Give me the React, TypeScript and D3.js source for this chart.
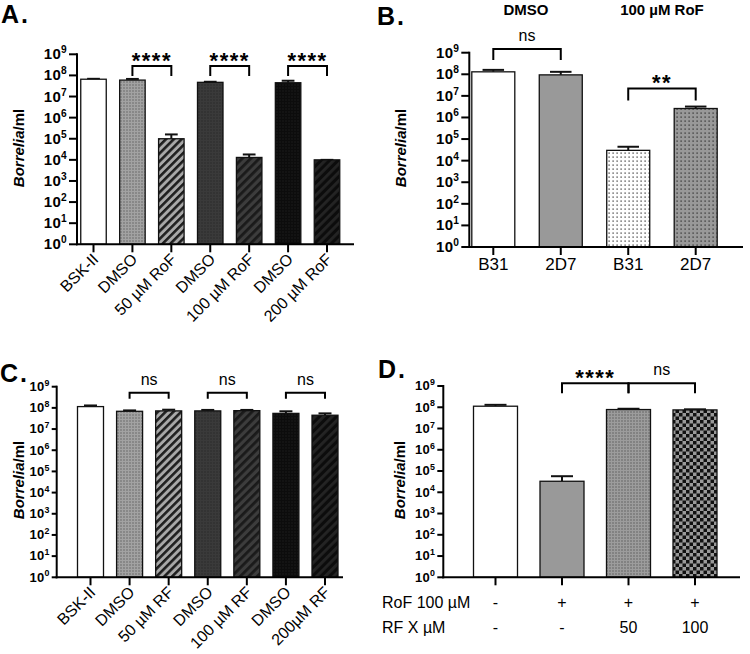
import React from "react";
import * as d3 from "d3";

// ---- data ----
const catsA = ["BSK-II", "DMSO", "50 µM RoF", "DMSO", "100 µM RoF", "DMSO", "200 µM RoF"];
const valsA = [6.6e7, 6.0e7, 1.0e5, 4.7e7, 1.3e4, 4.5e7, 1.0e4];
const errA = [6.9e7, 6.8e7, 1.6e5, 5.0e7, 1.8e4, 5.6e7, 1.0e4];
const fillsA = ["white", "dotsLight", "stripesLight", "dotsDark", "stripesDark", "dotsBlack", "stripesBlack"];

const catsB = ["B31", "2D7", "B31", "2D7"];
const valsB = [1.3e8, 9.4e7, 3.0e4, 2.6e6];
const errB = [1.6e8, 1.3e8, 4.4e4, 3.2e6];
const fillsB = ["white", "gray", "dotsWhite", "dotsGray"];
const headersB = ["DMSO", "100 µM RoF"];

const catsC = ["BSK-II", "DMSO", "50 µM RF", "DMSO", "100 µM RF", "DMSO", "200µM RF"];
const valsC = [1.15e8, 6.9e7, 7.2e7, 7.2e7, 7.4e7, 5.5e7, 4.5e7];
const errC = [1.3e8, 7.6e7, 8.2e7, 8.0e7, 8.0e7, 6.9e7, 5.5e7];

const valsD = [1.12e8, 3.3e4, 7.8e7, 7.5e7];
const errD = [1.3e8, 5.7e4, 8.5e7, 8.0e7];
const fillsD = ["white", "gray", "dotsGray2", "checker"];
const rowRoF = ["-", "+", "+", "+"];
const rowRF = ["-", "-", "50", "100"];

const exponents = d3.range(0, 10);

// brackets: [from, to, label, top value, leg px]
const bracketsA = [[1, 2, "****", 2.8e8, 10], [3, 4, "****", 2.8e8, 10], [5, 6, "****", 2.8e8, 10]];
const bracketsB = [[0, 1, "ns", 1.5e9, 11], [2, 3, "**", 2.2e7, 12]];
const bracketsC = [[1, 2, "ns", 5.2e8, 6], [3, 4, "ns", 5.2e8, 6], [5, 6, "ns", 5.2e8, 6]];
const bracketsD = [[1, 2, "****", 1.35e9, 10], [2, 3, "ns", 1.35e9, 10]];

const font = "'Liberation Sans', Arial, sans-serif";

function Panel({ p }) {
  const y = d3.scaleLog().domain([1, 1e9]).range([p.bottom, p.top]);
  const x = d3.scalePoint().domain(d3.range(p.vals.length)).range([p.first, p.last]);
  const bw = p.bw;
  const tf = p.tickFont;
  return (
    <g>
      <text x={p.letterX} y={p.letterY} fontSize={25} fontWeight="bold" letterSpacing={2}>{p.letter}</text>
      {/* bars */}
      {p.vals.map((v, i) => (
        <g key={i}>
          <line x1={x(i)} x2={x(i)} y1={y(v)} y2={y(p.errs[i])} stroke="#111" strokeWidth={2} />
          <line x1={x(i) - bw / 4} x2={x(i) + bw / 4} y1={y(p.errs[i])} y2={y(p.errs[i])} stroke="#111" strokeWidth={2} />
          <rect x={x(i) - bw / 2} y={y(v)} width={bw} height={p.bottom - y(v)}
            fill={p.fills[i] === "white" ? "#fff" : p.fills[i] === "gray" ? "#999" : `url(#${p.fills[i]})`}
            stroke="#111" strokeWidth={1.3} />
        </g>
      ))}
      {/* y axis */}
      <line x1={p.left} x2={p.left} y1={p.top - 1} y2={p.bottom + 1} stroke="#000" strokeWidth={2} />
      {exponents.map(e => (
        <g key={e}>
          <line x1={p.left - p.tickLen} x2={p.left} y1={y(Math.pow(10, e))} y2={y(Math.pow(10, e))} stroke="#000" strokeWidth={2} />
          <text x={p.left - p.tickLen - 2} y={y(Math.pow(10, e)) + tf / 3} textAnchor="end" fontSize={tf} fontWeight="bold" letterSpacing={0.3}>
            10<tspan fontSize={tf * 0.68} dy={-tf * 0.4}>{e}</tspan>
          </text>
        </g>
      ))}
      <text transform={`translate(${p.ylabX},${p.ylabY}) rotate(-90)`} textAnchor="middle" fontSize={15} fontWeight="bold">
        <tspan fontStyle="italic">Borrelia</tspan>/ml
      </text>
      {/* x axis */}
      <line x1={p.left - 1} x2={p.right} y1={p.bottom} y2={p.bottom} stroke="#000" strokeWidth={2} />
      {p.vals.map((v, i) => (
        <line key={i} x1={x(i)} x2={x(i)} y1={p.bottom} y2={p.bottom + 8} stroke="#000" strokeWidth={2} />
      ))}
      {p.rotated && p.cats.map((c, i) => (
        <text key={i} transform={`translate(${x(i) + 6},${p.bottom + 16}) rotate(-45)`} textAnchor="end" fontSize={16}>{c}</text>
      ))}
      {!p.rotated && p.cats && p.cats.map((c, i) => (
        <text key={i} x={x(i)} y={p.bottom + 23} textAnchor="middle" fontSize={17}>{c}</text>
      ))}
      {/* brackets */}
      {p.brackets.map(([a, b, lab, top, leg], i) => {
        const ty = y(top);
        return (
          <g key={i}>
            <path d={`M${x(a)},${ty + leg}V${ty}H${x(b)}V${ty + leg}`} fill="none" stroke="#000" strokeWidth={2} />
            {lab === "ns" ? (
              <text x={(x(a) + x(b)) / 2} y={ty - 8} textAnchor="middle" fontSize={16}>{lab}</text>
            ) : (
              <text x={(x(a) + x(b)) / 2} y={ty + 2} textAnchor="middle" fontSize={22} fontWeight="bold" letterSpacing={1.5}>{lab}</text>
            )}
          </g>
        );
      })}
      {p.extra && p.extra(x, y)}
    </g>
  );
}

const panelA = { letter: "A.", letterX: 1, letterY: 23, left: 77, right: 354, top: 54.3, bottom: 244.3, first: 93.5, last: 327, bw: 25.5,
  cats: catsA, vals: valsA, errs: errA, fills: fillsA, brackets: bracketsA, rotated: true, ylabX: 24, ylabY: 148, tickFont: 15, tickLen: 8 };
const panelB = { letter: "B.", letterX: 377, letterY: 25, left: 469.3, right: 743, top: 52.7, bottom: 247, first: 493.3, last: 695.7, bw: 43,
  cats: catsB, vals: valsB, errs: errB, fills: fillsB, brackets: bracketsB, rotated: false, ylabX: 406, ylabY: 148, tickFont: 15, tickLen: 8,
  extra: (x) => [
    <text key="h0" x={(x(0) + x(1)) / 2 - 1} y={15} textAnchor="middle" fontSize={15} fontWeight="bold">{headersB[0]}</text>,
    <text key="h1" x={(x(2) + x(3)) / 2} y={15} textAnchor="middle" fontSize={15} fontWeight="bold">{headersB[1]}</text>,
  ] };
const panelC = { letter: "C.", letterX: 0, letterY: 382, left: 56.7, right: 343, top: 386.7, bottom: 577.3, first: 90.5, last: 325, bw: 26,
  cats: catsC, vals: valsC, errs: errC, fills: fillsA, brackets: bracketsC, rotated: true, ylabX: 24, ylabY: 480, tickFont: 13, tickLen: 5 };
const panelD = { letter: "D.", letterX: 378, letterY: 378, left: 443.3, right: 740, top: 386, bottom: 577.3, first: 495.5, last: 695, bw: 44,
  cats: null, vals: valsD, errs: errD, fills: fillsD, brackets: bracketsD, rotated: false, ylabX: 405, ylabY: 480, tickFont: 13, tickLen: 6,
  extra: (x) => [
    <text key="r1" x={382} y={608} fontSize={16}>RoF 100 µM</text>,
    <text key="r2" x={382} y={633} fontSize={16}>RF X µM</text>,
    ...rowRoF.map((s, i) => <text key={"a" + i} x={x(i)} y={608} textAnchor="middle" fontSize={16}>{s}</text>),
    ...rowRF.map((s, i) => <text key={"b" + i} x={x(i)} y={633} textAnchor="middle" fontSize={16}>{s}</text>),
  ] };

function Dots({ id, size, bg, dot, d }) {
  return (
    <pattern id={id} width={size} height={size} patternUnits="userSpaceOnUse">
      <rect width={size} height={size} fill={bg} />
      <rect x={0.5} y={0.5} width={d} height={d} fill={dot} />
    </pattern>
  );
}

function Stripes({ id, size, bg, fg, w }) {
  return (
    <pattern id={id} width={size} height={size} patternUnits="userSpaceOnUse" patternTransform="rotate(45)">
      <rect width={size} height={size} fill={bg} />
      <rect width={w} height={size} fill={fg} />
    </pattern>
  );
}

export default function App() {
  return (
    <svg width={750} height={654} style={{ position: "absolute", left: 0, top: 0, background: "#fff" }} fontFamily={font}>
      <defs>
        <Dots id="dotsLight" size={3} bg="#a2a2a2" dot="#3a3a3a" d={1} />
        <Stripes id="stripesLight" size={5.5} bg="#a8a8a8" fg="#1e1e1e" w={2.6} />
        <Dots id="dotsDark" size={3} bg="#3a3a3a" dot="#1c1c1c" d={1} />
        <Stripes id="stripesDark" size={6} bg="#3c3c3c" fg="#1a1a1a" w={2.8} />
        <Dots id="dotsBlack" size={3} bg="#0c0c0c" dot="#262626" d={1} />
        <Stripes id="stripesBlack" size={6} bg="#0c0c0c" fg="#242424" w={2.8} />
        <Dots id="dotsWhite" size={4} bg="#ffffff" dot="#222" d={1.2} />
        <Dots id="dotsGray" size={4} bg="#999999" dot="#222" d={1.2} />
        <Dots id="dotsGray2" size={3} bg="#9c9c9c" dot="#333" d={1} />
        <pattern id="checker" width={7} height={7} patternUnits="userSpaceOnUse">
          <rect width={7} height={7} fill="#999" />
          <rect width={3.5} height={3.5} fill="#111" />
          <rect x={3.5} y={3.5} width={3.5} height={3.5} fill="#111" />
        </pattern>
      </defs>
      <rect width={750} height={654} fill="#fff" />
      <Panel p={panelA} />
      <Panel p={panelB} />
      <Panel p={panelC} />
      <Panel p={panelD} />
    </svg>
  );
}
